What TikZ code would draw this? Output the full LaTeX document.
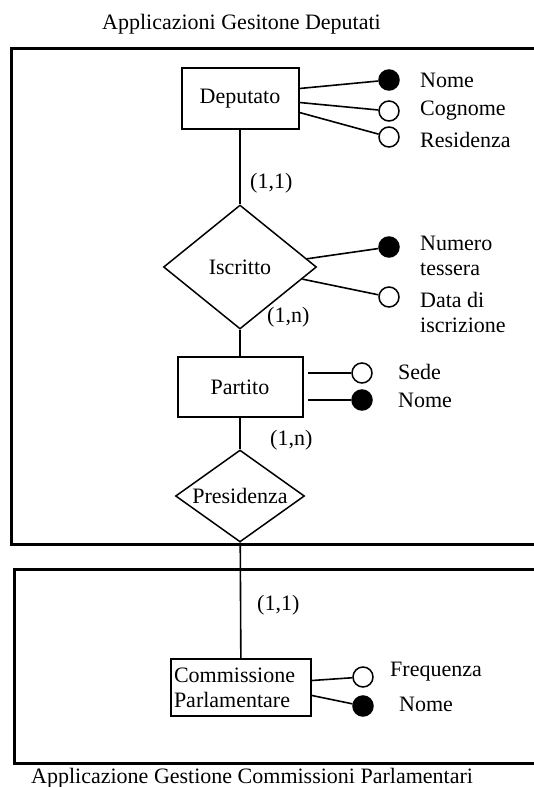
\documentclass[tikz,border=0pt]{standalone}
\usepackage{fontspec}
\setmainfont{Liberation Serif}
\usetikzlibrary{shapes.geometric}

\begin{document}
\begin{tikzpicture}[x=1pt, y=-1pt,
    font=\fontsize{22}{25}\selectfont,
    entity/.style={draw=black, line width=2pt, inner sep=0pt},
    relation/.style={diamond, draw=black, line width=1.5pt, inner sep=0pt},
    keyattr/.style={circle, draw=black, fill=black, line width=1.5pt, minimum size=20pt, inner sep=0pt},
    freeattr/.style={circle, draw=black, fill=white, line width=1.5pt, minimum size=20pt, inner sep=0pt},
    attrlabel/.style={anchor=west, inner sep=0pt, align=left},
    link/.style={line width=1.6pt}]
  \useasboundingbox (0,0) rectangle (534,787);
  \clip (0,0) rectangle (534,787);

  % Frames
  \draw[line width=3pt] (11,48) rectangle (560,544);
  \draw[line width=3pt] (14,569) rectangle (560,763);
  \node[anchor=west, inner sep=0pt] (titletop) at (102,24) {Applicazioni Gesitone Deputati};
  \node[anchor=west, inner sep=0pt] (titlebottom) at (31,778) {Applicazione Gestione Commissioni Parlamentari};

  % Nodes
  \node[entity, minimum width=117pt, minimum height=61pt] (deputato) at (240,98.5) {Deputato};
  \node[relation, minimum width=153pt, minimum height=124pt] (iscritto) at (240,267) {\makebox[0pt]{Iscritto}};
  \node[entity, minimum width=125pt, minimum height=60pt] (partito) at (240,387) {Partito};
  \node[relation, minimum width=129pt, minimum height=92pt] (presidenza) at (240,496) {\makebox[0pt]{Presidenza}};
  \node[entity, minimum height=57pt, inner xsep=3pt, text width=134pt, align=left] (commissione) at (241,687.5) {Commissione\\Parlamentare};

  % Attributes
  \node[keyattr] (depnome) at (389,80) {};
  \node[freeattr] (depcognome) at (389,111) {};
  \node[freeattr] (depresidenza) at (389,137) {};
  \node[keyattr] (iscnumero) at (389,247) {};
  \node[freeattr] (iscdata) at (389,297) {};
  \node[freeattr] (parsede) at (362,373) {};
  \node[keyattr] (parnome) at (362,400) {};
  \node[freeattr] (comfrequenza) at (363,677) {};
  \node[keyattr] (comnome) at (363,706) {};

  \node[attrlabel] (ldepnome) at (420,80) {Nome};
  \node[attrlabel] (ldepcognome) at (420,111) {Cognome};
  \node[attrlabel] (ldepresidenza) at (420,140) {Residenza};
  \node[attrlabel] (liscnumero) at (420,256) {Numero\\tessera};
  \node[attrlabel] (liscdata) at (420,312) {Data di\\iscrizione};
  \node[attrlabel] (lparsede) at (398,372) {Sede};
  \node[attrlabel] (lparnome) at (398,400) {Nome};
  \node[attrlabel] (lcomfrequenza) at (390,672) {Frequenza};
  \node[attrlabel] (lcomnome) at (399,704) {Nome};

  % Cardinalities
  \node[attrlabel] (card1) at (250,183) {(1,1)};
  \node[attrlabel] (card2) at (267,317) {(1,n)};
  \node[attrlabel] (card3) at (270,440) {(1,n)};
  \node[attrlabel] (card4) at (257,605) {(1,1)};

  \coordinate (sedestub) at (308,373);
  \coordinate (nomestub) at (308,400);

  % Links
  \draw[link] (deputato) -- (iscritto);
  \draw[link] (iscritto) -- (partito);
  \draw[link] (partito) -- (presidenza);
  \draw[link] (presidenza) -- (commissione);

  \draw[link] ([yshift=10pt]deputato.east) -- (depnome);
  \draw[link] ([yshift=-4pt]deputato.east) -- (depcognome);
  \draw[link] ([yshift=-14pt]deputato.east) -- (depresidenza);
  \draw[link] (iscritto.7) -- (iscnumero);
  \draw[link] (iscritto.-11) -- (iscdata);
  \draw[link] (sedestub) -- (parsede);
  \draw[link] (nomestub) -- (parnome);
  \draw[link] ([yshift=7pt]commissione.east) -- (comfrequenza);
  \draw[link] ([yshift=-8pt]commissione.east) -- (comnome);

\end{tikzpicture}
\end{document}
